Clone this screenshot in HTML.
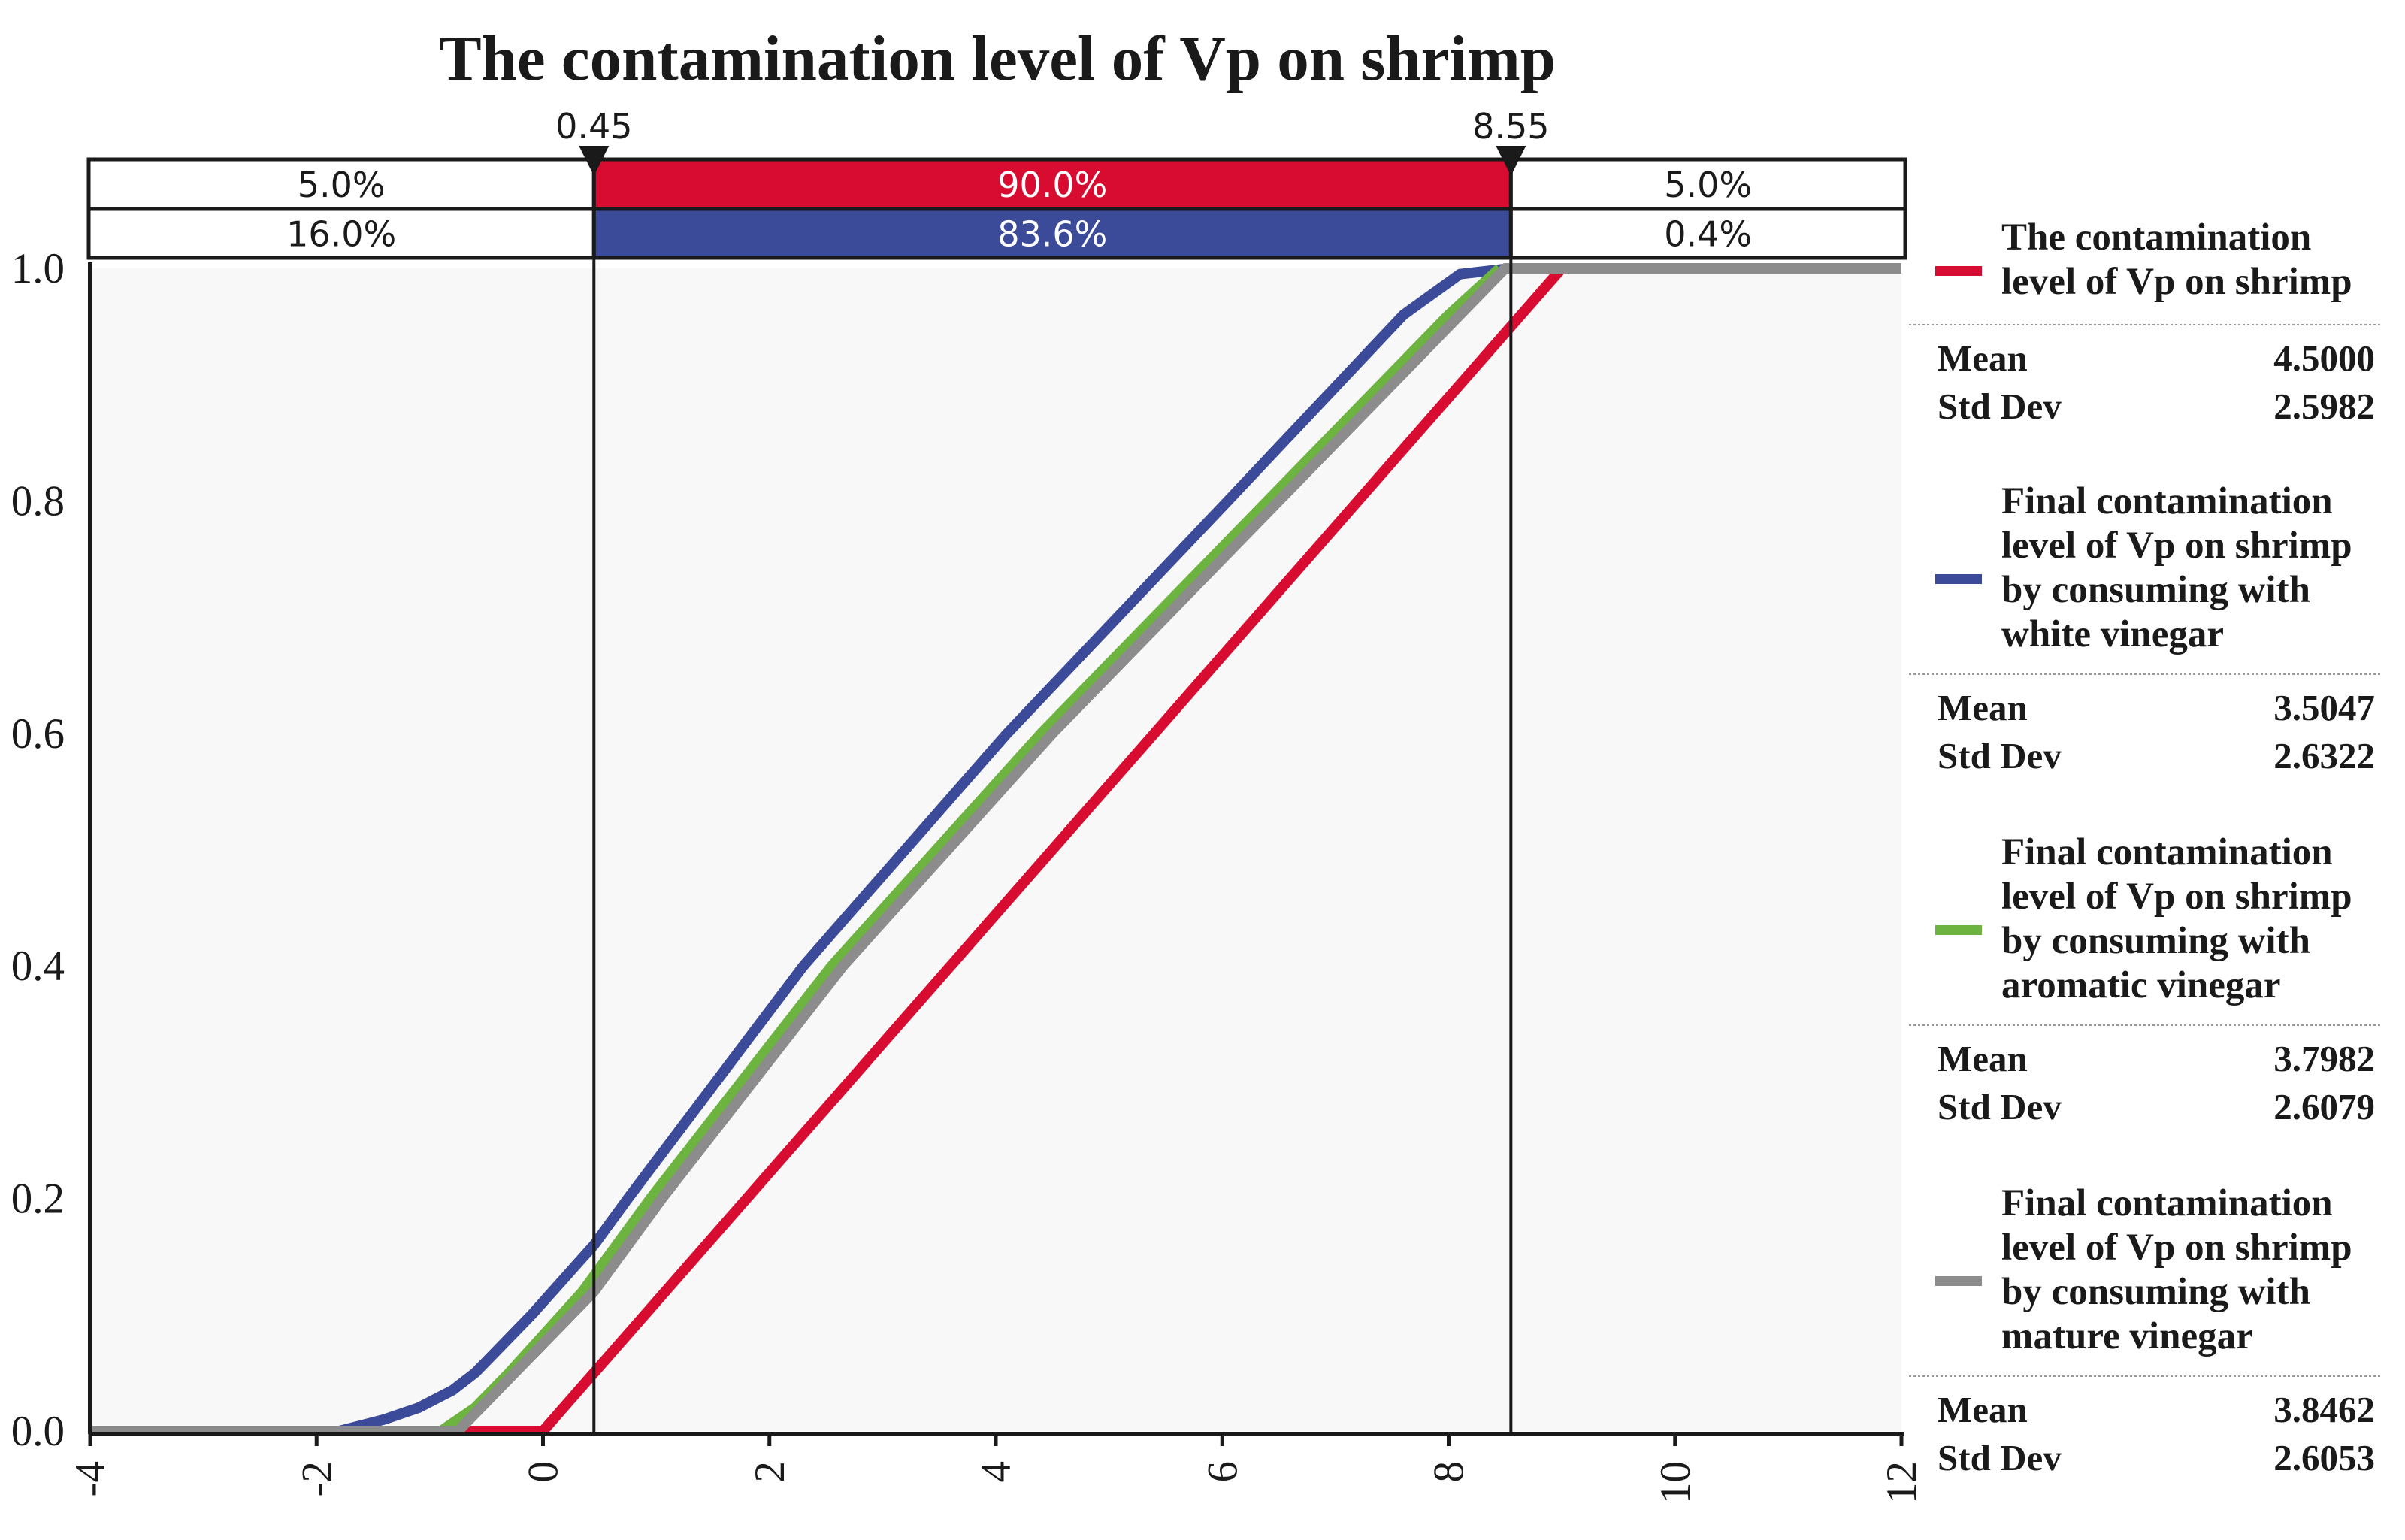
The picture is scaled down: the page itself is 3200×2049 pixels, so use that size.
<!DOCTYPE html>
<html><head><meta charset="utf-8"><style>
html,body{margin:0;padding:0;background:#fff;}
svg{display:block;}
.serif{font-family:"Liberation Serif",serif;}
.sans{font-family:"DejaVu Sans","Liberation Sans",sans-serif;}
</style></head><body>
<svg id="chart" width="3200" height="2049" viewBox="0 0 3200 2049" xmlns="http://www.w3.org/2000/svg">
<text x="1327" y="106" text-anchor="middle" class="serif" font-weight="bold" font-size="85" fill="#1a1a1a">The contamination level of Vp on shrimp</text>
<rect x="120" y="357" width="2410" height="1547" fill="#f8f8f8"/>
<g id="marks"></g>
<g id="axes"></g>
<g id="legend"></g>
</svg>
<script>
const xTicks = [-4,-2,0,2,4,6,8,10,12];
const yTicks = [0,0.2,0.4,0.6,0.8,1.0];
const markers = [0.45, 8.55];
const rowRed = ["5.0%","90.0%","5.0%"];
const rowBlue = ["16.0%","83.6%","0.4%"];
const seriesNames = ["red","blue","green","grey"];
const redX = [-4,0,9,9.05];
const redY = [0,0,1,1];
const blueX = [-4,-1.8,-1.4,-1.1,-0.8,-0.6,-0.35,-0.1,0.45,0.75,2.3,4.1,6.05,7.6,8.1,8.55];
const blueY = [0,0,0.01,0.02,0.035,0.05,0.075,0.1,0.16,0.2,0.4,0.6,0.8,0.96,0.995,1];
const greenX = [-4,-0.9,-0.6,-0.3,0.35,0.95,2.55,4.4,6.4,8.0,8.45];
const greenY = [0,0,0.02,0.05,0.12,0.2,0.4,0.6,0.8,0.96,1];
const greyX = [-4,-0.75,-0.45,0.45,1.05,2.65,4.5,6.5,8.1,8.5,12];
const greyY = [0,0,0.03,0.12,0.2,0.4,0.6,0.8,0.96,1,1];
const legendTitles = [["The contamination","level of Vp on shrimp"],["Final contamination","level of Vp on shrimp","by consuming with","white vinegar"],["Final contamination","level of Vp on shrimp","by consuming with","aromatic vinegar"],["Final contamination","level of Vp on shrimp","by consuming with","mature vinegar"]];
const means = ["4.5000","3.5047","3.7982","3.8462"];
const stds = ["2.5982","2.6322","2.6079","2.6053"];
const colors = ["#d70c30","#3b4b9a","#6db33f","#8c8c8c"];

const NS="http://www.w3.org/2000/svg";
const X0=120,X1=2530,Y0=1904,Y1=357;
function sx(v){return X0+(v-(-4))/(12-(-4))*(X1-X0);}
function sy(v){return Y0-v*(Y0-Y1);}
function mk(tag,attrs,parent){const e=document.createElementNS(NS,tag);for(const k in attrs)e.setAttribute(k,attrs[k]);parent.appendChild(e);return e;}
const marks=document.getElementById('marks'),axes=document.getElementById('axes'),legend=document.getElementById('legend');

const all=[[redX,redY],[blueX,blueY],[greenX,greenY],[greyX,greyY]];
[1,0,2,3].forEach(i=>{
  const [xs,ys]=all[i];
  const pts=xs.map((x,j)=>sx(x).toFixed(1)+","+sy(ys[j]).toFixed(1)).join(" ");
  const p=mk('polyline',{points:pts,fill:'none',stroke:colors[i],'stroke-width':14,'stroke-linejoin':'round'},marks);
  
  
});

let a=mk('line',{x1:X0,y1:Y1-8,x2:X0,y2:Y0+4,stroke:'#1a1a1a','stroke-width':6},axes);


a=mk('line',{x1:X0,y1:Y0+4,x2:X1+4,y2:Y0+4,stroke:'#1a1a1a','stroke-width':6},axes);


xTicks.forEach(v=>{
  const t=mk('line',{x1:sx(v),y1:Y0+4,x2:sx(v),y2:Y0+20,stroke:'#1a1a1a','stroke-width':5},axes);
  
  
  const l=mk('text',{x:0,y:0,transform:`translate(${sx(v)+19},${Y0+40}) rotate(-90)`,'text-anchor':'end','font-size':57,fill:'#1a1a1a',class:'serif'},axes);
  l.textContent=String(v);
  
  
});
yTicks.forEach(v=>{
  const l=mk('text',{x:86,y:sy(v)+19,'text-anchor':'end','font-size':57,fill:'#1a1a1a',class:'serif'},axes);
  l.textContent=v.toFixed(1);
  
  
});

const TT=212,TM=278,TB=343,TL=118,TR=2535;
const mx=markers.map(sx);
const cells=[[TL,mx[0]],[mx[0],mx[1]],[mx[1],TR]];
[[rowRed,TT,TM,colors[0]],[rowBlue,TM,TB,colors[1]]].forEach(([row,y0,y1,c],ri)=>{
  cells.forEach(([a0,a1],ci)=>{
    const r=mk('rect',{x:a0,y:y0,width:a1-a0,height:y1-y0,fill:ci==1?c:'#fff',stroke:'#1a1a1a','stroke-width':5},axes);
    
    
    const t=mk('text',{x:(a0+a1)/2,y:(y0+y1)/2+17,'text-anchor':'middle','font-size':46,fill:ci==1?'#fff':'#1a1a1a',class:'sans'},axes);
    t.textContent=row[ci];
    
    
  });
});
markers.forEach((m,i)=>{
  const l=mk('line',{x1:sx(m),y1:TT,x2:sx(m),y2:Y0+4,stroke:'#1a1a1a','stroke-width':4},axes);
  
  
  const tri=mk('polygon',{points:`${sx(m)-20},${TT-18} ${sx(m)+20},${TT-18} ${sx(m)},${TT+22}`,fill:'#1a1a1a'},axes);
  
  
  const t=mk('text',{x:sx(m),y:TT-28,'text-anchor':'middle','font-size':46,fill:'#1a1a1a',class:'sans'},axes);
  t.textContent=m.toFixed(2);
  
  
});

const blockTop=[332,683,1150,1617];
legendTitles.forEach((lines,i)=>{
  const y0=blockTop[i];
  lines.forEach((s,k)=>{
    const t=mk('text',{x:2663,y:y0+k*59,'font-size':51,'font-weight':'bold',fill:'#1a1a1a',class:'serif'},legend);
    t.textContent=s;
    
    
  });
  const midY=y0-30+(lines.length*59)/2;
  const sw=mk('rect',{x:2575,y:midY-7,width:62,height:13,fill:colors[i]},legend);
  
  
  const sepY=y0+lines.length*59-18+(i==0?0:-4);
  const sep=mk('line',{x1:2540,y1:sepY,x2:3170,y2:sepY,stroke:'#999','stroke-width':2,'stroke-dasharray':'3,3'},legend);
  
  
  [["Mean",means[i],sepY+61],["Std Dev",stds[i],sepY+125]].forEach(([lab,val,yy])=>{
    const a=mk('text',{x:2578,y:yy,'font-size':49,'font-weight':'bold',fill:'#1a1a1a',class:'serif'},legend);
    a.textContent=lab;
    
    
    const b=mk('text',{x:3160,y:yy,'text-anchor':'end','font-size':49,'font-weight':'bold',fill:'#1a1a1a',class:'serif'},legend);
    b.textContent=val;
    
    
  });
});
</script>
</body></html>
